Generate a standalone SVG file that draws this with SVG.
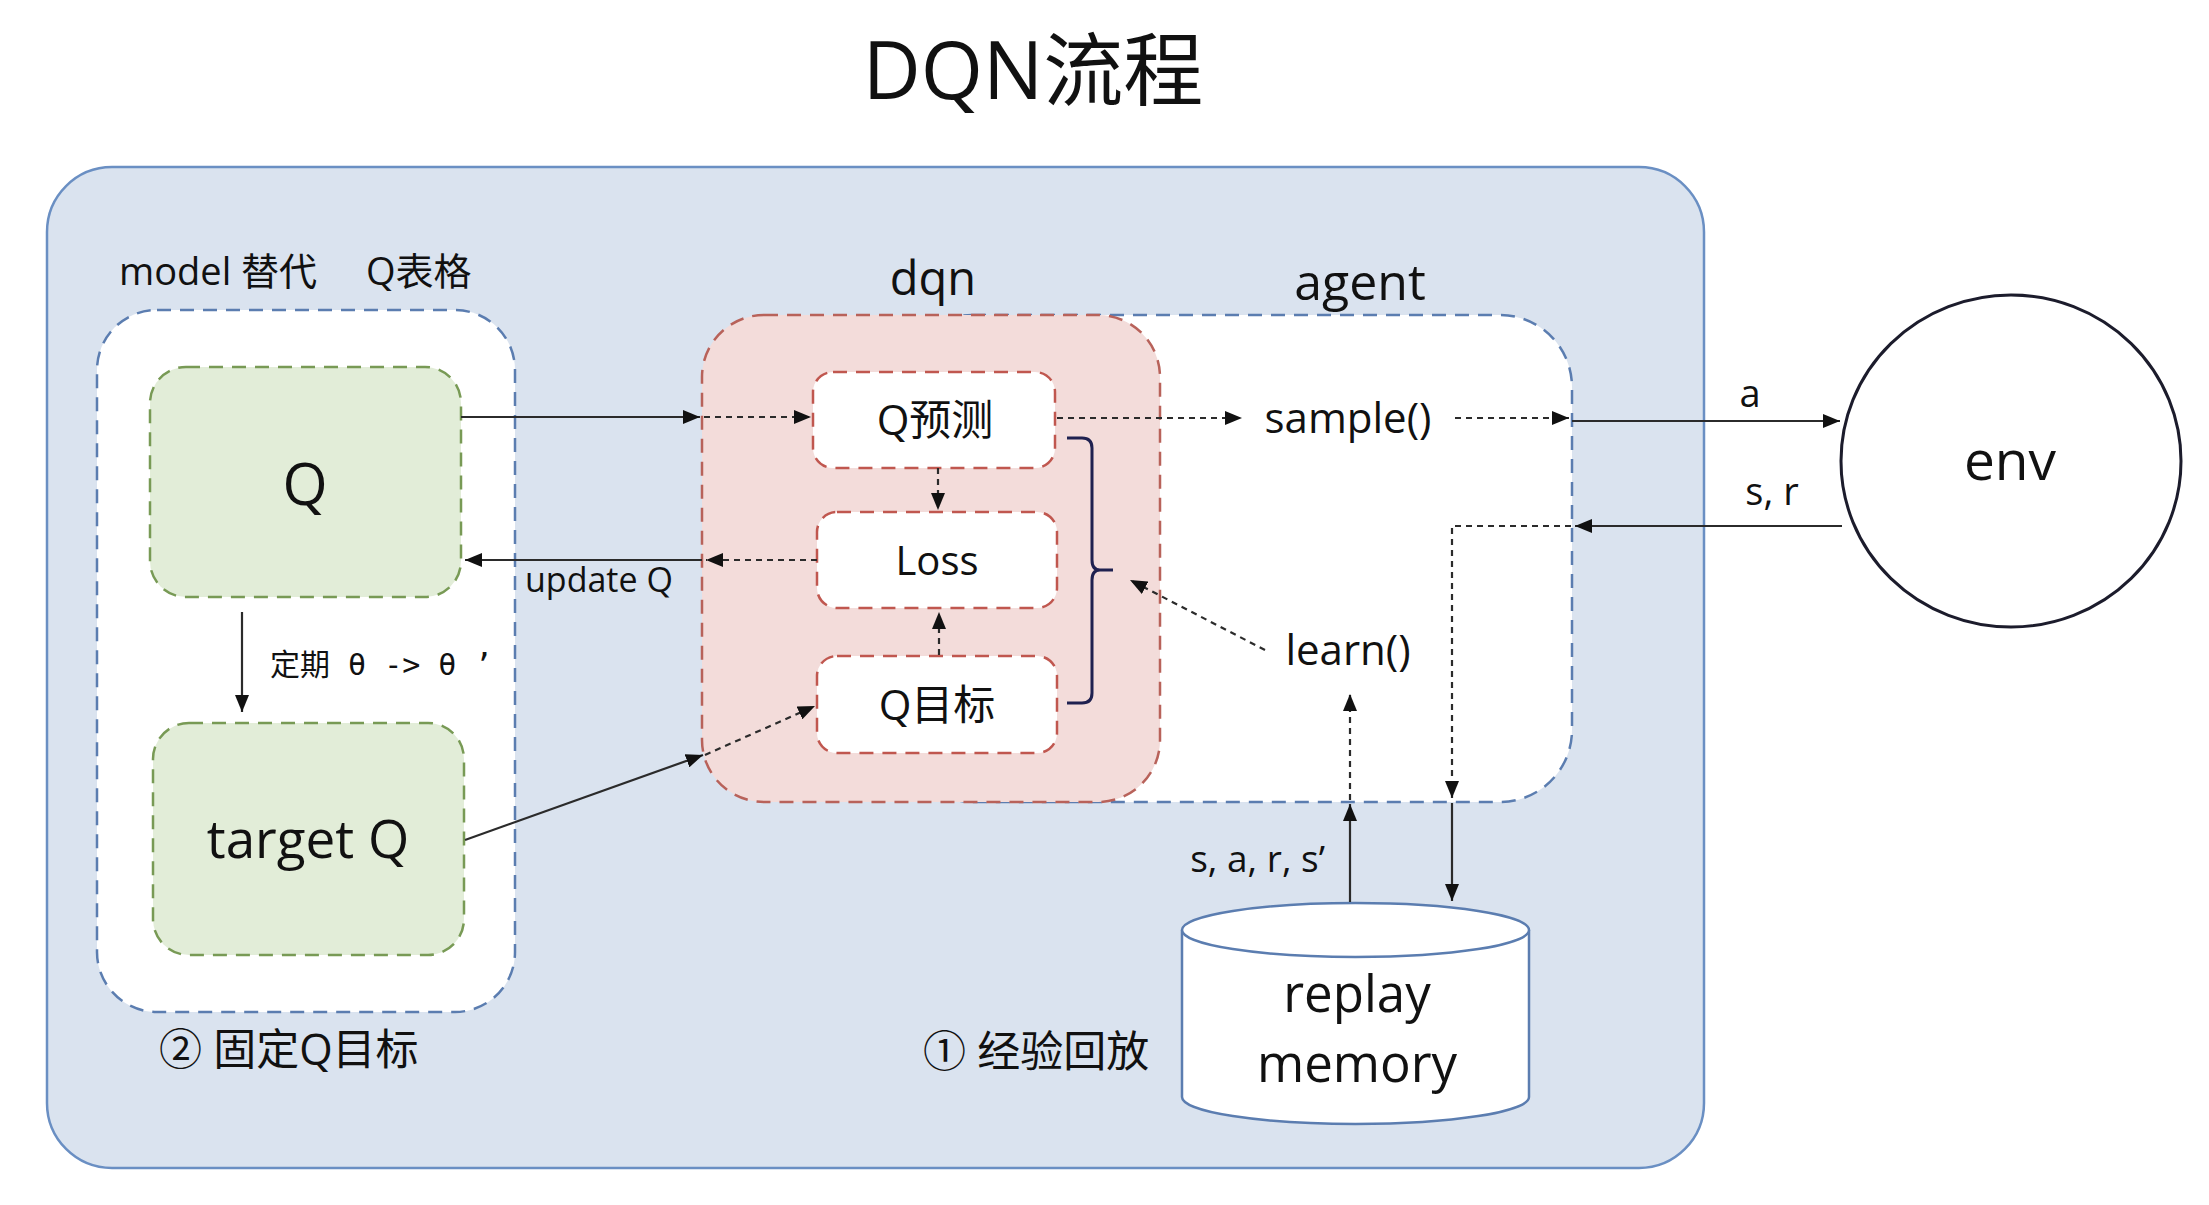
<svg xmlns="http://www.w3.org/2000/svg" width="2209" height="1205" viewBox="0 0 2209 1205">
<defs>
<style>
text{font-family:"Open Sans","Noto Sans CJK SC",sans-serif;fill:#111;}
.mid{text-anchor:middle;}
.boxdash{stroke-dasharray:14 9;stroke-width:2.5;}
.sol{fill:none;stroke:#2b2b2b;stroke-width:2.2;}
.dot{fill:none;stroke:#2b2b2b;stroke-width:2.2;stroke-dasharray:6 5;}
</style>
<marker id="ah" markerUnits="userSpaceOnUse" markerWidth="18" markerHeight="14" refX="17" refY="7" orient="auto"><path d="M0,0 L17,7 L0,14 z" fill="#111"/></marker>
</defs>
<rect width="2209" height="1205" fill="#ffffff"/>
<text id="title" x="1033" y="99" class="mid" font-size="80">DQN流程</text>
<g id="outer"><rect x="47" y="167" width="1657" height="1001" rx="65" fill="#dae3ef" stroke="#6a8fc3" stroke-width="2.5"/></g>
<g id="model">
<rect x="97" y="310" width="418" height="702" rx="60" fill="#ffffff" stroke="#5b7db0" class="boxdash"/>
<text x="119" y="285" font-size="38">model 替代</text><text x="366" y="285" font-size="38">Q表格</text>
</g>
<g id="q"><rect x="150" y="367" width="311" height="230" rx="36" fill="#e2edd8" stroke="#789a55" class="boxdash"/><text x="305" y="505" class="mid" font-size="58">Q</text></g>
<g id="targetq"><rect x="153" y="723" width="311" height="232" rx="36" fill="#e2edd8" stroke="#789a55" class="boxdash"/><text x="308" y="858" class="mid" font-size="53">target Q</text></g>
<text id="period" x="270" y="675" font-size="30" style="font-family:'DejaVu Sans Mono','Noto Sans CJK SC',monospace">定期 θ -&gt; θ ’</text>
<text id="fixq" x="159" y="1065" font-size="43">② 固定Q目标</text>
<g id="agent"><rect x="900" y="315" width="672" height="487" rx="72" fill="#ffffff" stroke="#5b7db0" class="boxdash"/><text x="1360" y="300" class="mid" font-size="50">agent</text></g>
<g id="dqn"><rect x="702" y="315" width="458" height="487" rx="62" fill="#f3dcda" stroke="#b8625a" class="boxdash"/><text x="933" y="295" class="mid" font-size="47">dqn</text></g>
<g id="qpred"><rect x="813" y="372" width="242" height="96" rx="20" fill="#ffffff" stroke="#c0574f" class="boxdash"/><text x="935" y="435" class="mid" font-size="42">Q预测</text></g>
<g id="loss"><rect x="817" y="512" width="240" height="96" rx="20" fill="#ffffff" stroke="#c0574f" class="boxdash"/><text x="937" y="575" class="mid" font-size="40">Loss</text></g>
<g id="qtarget"><rect x="817" y="656" width="240" height="97" rx="20" fill="#ffffff" stroke="#c0574f" class="boxdash"/><text x="937" y="720" class="mid" font-size="42">Q目标</text></g>
<g id="bracket"><path d="M1067,438 L1082,438 Q1092,438 1092,448 L1092,560 Q1092,570 1100,570 L1113,570 M1100,570 Q1092,570 1092,580 L1092,693 Q1092,703 1082,703 L1067,703" fill="none" stroke="#1f2150" stroke-width="3"/></g>
<g id="sample"><text x="1348" y="433" class="mid" font-size="42">sample()</text></g>
<g id="learn"><text x="1348" y="665" class="mid" font-size="42">learn()</text></g>
<g id="env"><ellipse cx="2011" cy="461" rx="170" ry="166" fill="#ffffff" stroke="#1c1c2c" stroke-width="3"/><text x="2010" y="480" class="mid" font-size="55">env</text></g>
<g id="memory">
<path d="M1182,930 L1182,1097 A173.5,27 0 0 0 1529,1097 L1529,930" fill="#ffffff" stroke="#5b7db0" stroke-width="2.5"/>
<ellipse cx="1355.5" cy="930" rx="173.5" ry="27" fill="#ffffff" stroke="#5b7db0" stroke-width="2.5"/>
<text x="1357" y="1012" class="mid" font-size="51">replay</text>
<text x="1357" y="1082" class="mid" font-size="51">memory</text>
</g>
<text id="replaylabel" x="923" y="1067" font-size="43">① 经验回放</text>
<g id="connectors">
<path class="sol" d="M461,417 L700,417" marker-end="url(#ah)"/>
<path class="dot" d="M704,417 L811,417" marker-end="url(#ah)"/>
<path class="dot" d="M1057,418 L1242,418" marker-end="url(#ah)"/>
<path class="dot" d="M1455,418 L1569,418" marker-end="url(#ah)"/>
<path class="sol" d="M1572,421 L1840,421" marker-end="url(#ah)"/>
<path class="sol" d="M1842,526 L1575,526" marker-end="url(#ah)"/>
<path class="dot" d="M1571,526 L1452,526 L1452,798" marker-end="url(#ah)"/>
<path class="sol" d="M1452,803 L1452,901" marker-end="url(#ah)"/>
<path class="dot" d="M938,468 L938,510" marker-end="url(#ah)"/>
<path class="dot" d="M939,655 L939,612" marker-end="url(#ah)"/>
<path class="dot" d="M817,560 L706,560" marker-end="url(#ah)"/>
<path class="sol" d="M702,560 L465,560" marker-end="url(#ah)"/>
<path class="sol" d="M242,612 L242,712" marker-end="url(#ah)"/>
<path class="sol" d="M465,840 L703,755" marker-end="url(#ah)"/>
<path class="dot" d="M705,755 L815,706" marker-end="url(#ah)"/>
<path class="dot" d="M1265,650 L1130,580" marker-end="url(#ah)"/>
<path class="sol" d="M1350,902 L1350,804" marker-end="url(#ah)"/>
<path class="dot" d="M1350,800 L1350,694" marker-end="url(#ah)"/>
<text x="1750" y="407" class="mid" font-size="38">a</text>
<text x="1772" y="505" class="mid" font-size="38">s, r</text>
<text x="1325" y="872" font-size="37" style="text-anchor:end">s, a, r, s’</text>
<text x="525" y="592" font-size="34">update Q</text>
</g>
</svg>
